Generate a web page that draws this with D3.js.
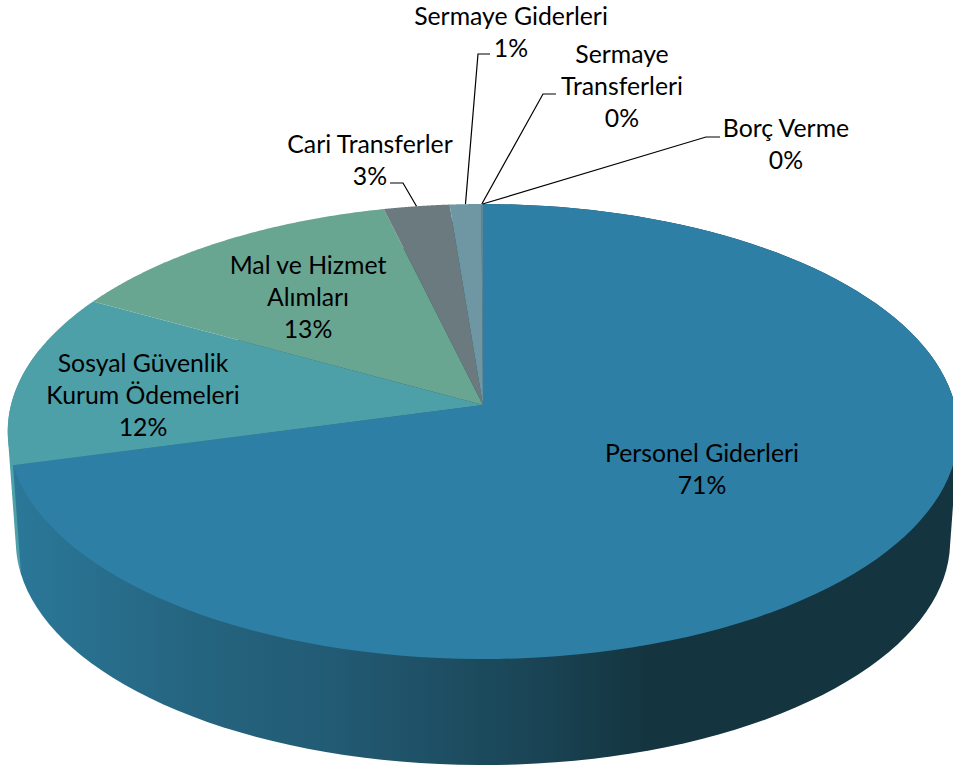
<!DOCTYPE html>
<html><head><meta charset="utf-8">
<script src="https://cdn.jsdelivr.net/npm/d3@7"></script>
<style>html,body{margin:0;padding:0;background:#fff;overflow:hidden}svg{display:block}
text{font-family:Lato,"Noto Sans",sans-serif;font-size:24.8px;fill:#000;text-anchor:middle;dominant-baseline:central}</style>
</head><body><svg id="c" width="953" height="769"></svg>
<script>
const categories=["Personel Giderleri","Sosyal Güvenlik Kurum Ödemeleri","Mal ve Hizmet Alımları","Cari Transferler","Sermaye Giderleri","Sermaye Transferleri","Borç Verme"];
const values=[70.8,12.3,13.14,2.5,1.2,0.03,0.03];
const percentLabels=["71%","12%","13%","3%","1%","0%","0%"];
const labelLines=[["Personel Giderleri"],["Sosyal Güvenlik","Kurum Ödemeleri"],["Mal ve Hizmet","Alımları"],["Cari Transferler"],["Sermaye Giderleri"],["Sermaye","Transferleri"],["Borç Verme"]];
const colors=["#2d7fa6","#4d9fa8","#69a692","#6a7a7f","#6f97a3","#6f97a3","#6f97a3"];

// layout
const labelX=[702,143,308,370,511,622,786], labelY=[452,362,264.5,143,15,53,127], lineH=32;
const leaders=[null,null,null,[[390,183],[403,183]],[[490,54],[478,54]],[[556,94],[543,94]],[[720,137],[706,137]]];
const cx=483, apexY=405, R=472, S=224.4, k=0.1165;
const topCy=431.5, botCy=541, botSx=0.983, botSy=0.985;

const svg=d3.select("#c");
const defs=svg.append("defs");
const grad=defs.append("linearGradient").attr("id","side").attr("gradientUnits","userSpaceOnUse")
  .attr("x1",10).attr("x2",953).attr("y1",0).attr("y2",0);
[[0,"#2b7899"],[0.2,"#25647f"],[0.35,"#225a73"],[0.55,"#1a4556"],[0.68,"#14343f"],[1,"#14343f"]]
  .forEach(([o,c])=>grad.append("stop").attr("offset",o).attr("stop-color",c));

function proj(a){const u=Math.sin(a),v=-Math.cos(a),w=1-k*v;return [cx+R*u/w,apexY+S*v/w];}
function projBot(a){const [x,y]=proj(a);return [cx+(x-cx)*botSx,botCy+(y-topCy)*botSy];}
const arcs=d3.pie().sort(null).value(d=>d)(values);
const line=d3.line();
const samples=(a0,a1,f)=>d3.range(0,121).map(i=>f(a0+(a1-a0)*i/120));
const wall=(a,b)=>line(d3.polygonHull([...samples(a,b,proj),...samples(a,b,projBot)]))+"Z";

// outer wall: left sliver of the second slice, then the first slice
const sideGroup=svg.append("g");
const rad=d3.scaleLinear().domain([0,360]).range([0,2*Math.PI]);
sideGroup.append("path").attr("d",wall(arcs[1].startAngle,rad(285))).attr("fill","#4d9fa8");
sideGroup.append("path").attr("d",wall(arcs[0].startAngle,arcs[0].endAngle)).attr("fill","url(#side)");

// top face
svg.append("g").selectAll("path").data(arcs).join("path")
  .attr("d",d=>line([[cx,apexY],...samples(d.startAngle,d.endAngle,proj)])+"Z")
  .attr("fill",(d,i)=>colors[i]);

// leader lines
svg.append("g").selectAll("path").data(arcs.map((d,i)=>({d,l:leaders[i]})).filter(o=>o.l)).join("path")
  .attr("d",o=>line([...o.l,proj((o.d.startAngle+o.d.endAngle)/2)]))
  .attr("fill","none").attr("stroke","#000").attr("stroke-width",1.2);

// labels
const g=svg.append("g");
categories.forEach((c,i)=>{
  const ls=[...labelLines[i],percentLabels[i]];
  ls.forEach((t,j)=>{g.append("text").attr("x",labelX[i]).attr("y",labelY[i]+j*lineH).text(t);});
});
</script></body></html>
